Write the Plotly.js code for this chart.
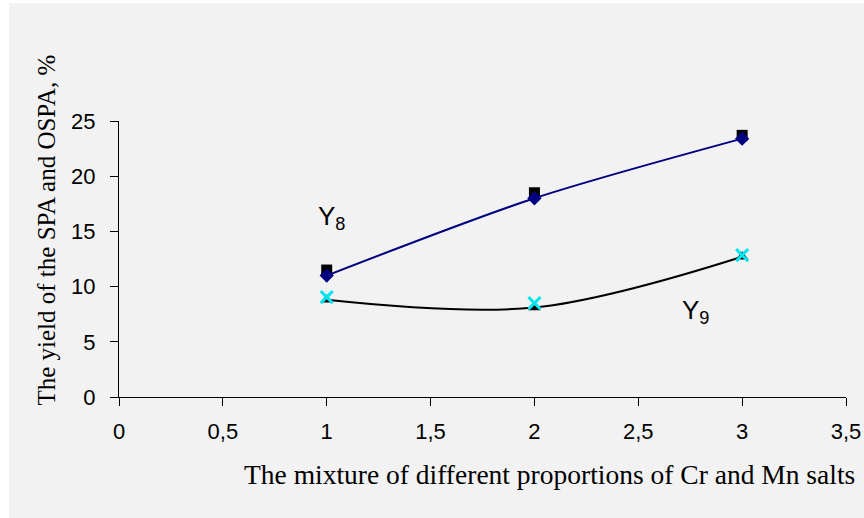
<!DOCTYPE html>
<html>
<head>
<meta charset="utf-8">
<script src="https://cdn.plot.ly/plotly-3.0.1.min.js"></script>
<style>
html,body{margin:0;padding:0;background:#ffffff;}
#chart{position:absolute;left:9px;top:3px;width:855px;height:515px;}
</style>
</head>
<body>
<div id="chart"></div>
<script>
// Data
var xVals = [1, 2, 3];
var y8Line = [11.0, 18.0, 23.4];      // Y8 smoothed line with navy diamonds
var y8Squares = [11.5, 18.5, 23.7];   // black squares
var y9Line = [8.8, 8.1, 12.7];        // Y9 smoothed line with black triangles
var y9Cross = [9.05, 8.5, 12.85];     // cyan crosses
var xTickVals = [0, 0.5, 1, 1.5, 2, 2.5, 3, 3.5];
var xTickText = ['0', '0,5', '1', '1,5', '2', '2,5', '3', '3,5'];
var yTickVals = [0, 5, 10, 15, 20, 25];

var traces = [
  {x: xVals, y: y8Squares, mode: 'markers', type: 'scatter',
   marker: {symbol: 'square', size: 11, color: '#000000'}, showlegend: false, cliponaxis: false},
  {x: xVals, y: y8Line, mode: 'lines+markers', type: 'scatter',
   line: {color: '#000080', width: 2, shape: 'spline', smoothing: 0.8},
   marker: {symbol: 'diamond', size: 11, color: '#000080'}, showlegend: false, cliponaxis: false},
  {x: xVals, y: y9Line, mode: 'lines+markers', type: 'scatter',
   line: {color: '#000000', width: 2, shape: 'spline', smoothing: 1},
   marker: {symbol: 'triangle-up', size: 11, color: '#000000'}, showlegend: false, cliponaxis: false},
  {x: xVals, y: y9Cross, mode: 'markers', type: 'scatter',
   marker: {symbol: 'x-thin-open', size: 12, color: '#00e5ee', line: {color: '#00e5ee', width: 3}},
   showlegend: false, cliponaxis: false}
];

var layout = {
  width: 855, height: 515,
  paper_bgcolor: '#f2f2f2', plot_bgcolor: '#f2f2f2',
  margin: {l: 110, r: 18, t: 118, b: 121},
  separators: ',.',
  font: {family: 'Liberation Sans, Arial, sans-serif', color: '#000000', size: 22},
  xaxis: {
    range: [0, 3.5], tickvals: xTickVals, ticktext: xTickText,
    showgrid: false, zeroline: false, showline: true, linecolor: '#000000', linewidth: 1,
    ticks: 'outside', ticklen: 8, tickcolor: '#000000', ticklabelstandoff: 7,
    tickfont: {size: 22, family: 'Liberation Sans, Arial, sans-serif'}
  },
  yaxis: {
    range: [0, 25], tickvals: yTickVals,
    showgrid: false, zeroline: false, showline: true, linecolor: '#000000', linewidth: 1,
    ticks: 'outside', ticklen: 8, tickcolor: '#000000', ticklabelstandoff: 10,
    tickfont: {size: 22, family: 'Liberation Sans, Arial, sans-serif'}
  },
  annotations: [
    {text: 'The yield of the SPA and OSPA, %', xref: 'paper', yref: 'paper', x: -0.101, y: 0.605,
     xanchor: 'center', yanchor: 'middle',
     textangle: -90, showarrow: false, font: {family: 'Liberation Serif, Times New Roman, serif', size: 25}},
    {text: 'The mixture of different proportions of Cr and Mn salts', xref: 'paper', yref: 'paper',
     x: 0.592, y: -0.279, xanchor: 'center', yanchor: 'middle',
     showarrow: false, font: {family: 'Liberation Serif, Times New Roman, serif', size: 27.5}},
    {text: 'Y<sub>8</sub>', xref: 'x', yref: 'y', x: 0.95, y: 17.9, xanchor: 'left', yanchor: 'top', showarrow: false,
     font: {size: 26, family: 'Liberation Sans, Arial, sans-serif'}},
    {text: 'Y<sub>9</sub>', xref: 'x', yref: 'y', x: 2.70, y: 9.45, xanchor: 'left', yanchor: 'top', showarrow: false,
     font: {size: 26, family: 'Liberation Sans, Arial, sans-serif'}}
  ]
};

Plotly.newPlot('chart', traces, layout, {displayModeBar: false, staticPlot: true});
</script>
</body>
</html>
